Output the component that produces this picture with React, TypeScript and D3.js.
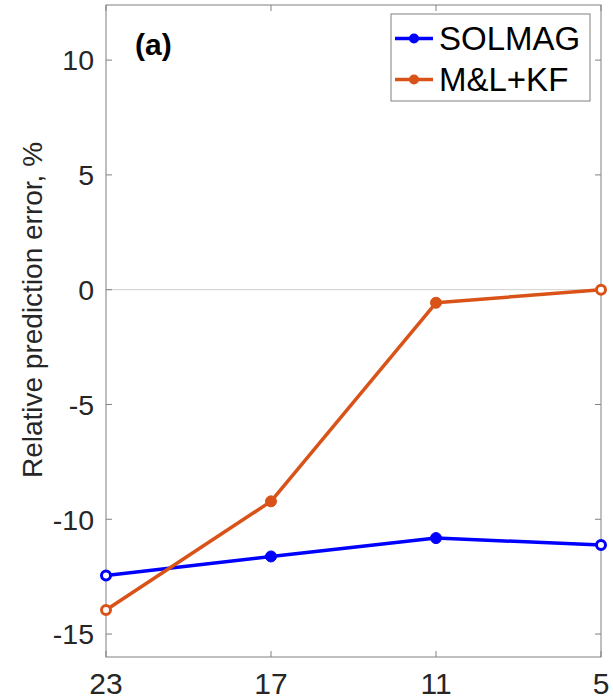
import React from "react";
import * as d3 from "d3";

const categories = ["23", "17", "11", "5"];
const solmag = [-12.45, -11.62, -10.82, -11.12];
const mlkf = [-13.95, -9.22, -0.57, 0.0];
const yTicks = [-15, -10, -5, 0, 5, 10];
const seriesNames = ["SOLMAG", "M&L+KF"];
const seriesColors = ["#0000FF", "#D95319"];

const W = 613, H = 700;
const m = { left: 106, right: 12, top: 5, bottom: 43 };

export default function App() {
  const x = d3.scalePoint<string>().domain(categories).range([m.left, W - m.right]);
  const y = d3.scaleLinear().domain([-16, 12.4]).range([H - m.bottom, m.top]);
  const line = d3.line<number>().x((_, i) => x(categories[i])!).y((d) => y(d));
  const all = [solmag, mlkf];
  const font = "'Liberation Sans', Arial, sans-serif";
  const axisColor = "#808080";
  const textColor = "#262626";
  const x0 = m.left, x1 = W - m.right, y0 = m.top, y1 = H - m.bottom;
  return (
    <svg width={W} height={H} style={{ position: "absolute", left: 0, top: 0 }} fontFamily={font}>
      <rect x={0} y={0} width={W} height={H} fill="#fff" />
      <line x1={x0} x2={x1} y1={y(0)} y2={y(0)} stroke="#d0d0d0" strokeWidth={1} />
      {yTicks.map((t) => (
        <g key={t}>
          <line x1={x0} x2={x0 + 6} y1={y(t)} y2={y(t)} stroke={axisColor} />
          <line x1={x1} x2={x1 - 6} y1={y(t)} y2={y(t)} stroke={axisColor} />
          <text x={x0 - 12} y={y(t)} dy="0.36em" textAnchor="end" fontSize={28.5} fill={textColor}>
            {t < 0 ? "-" + Math.abs(t) : t}
          </text>
        </g>
      ))}
      {categories.map((c) => (
        <g key={c}>
          <line x1={x(c)} x2={x(c)} y1={y1} y2={y1 - 6} stroke={axisColor} />
          <line x1={x(c)} x2={x(c)} y1={y0} y2={y0 + 6} stroke={axisColor} />
          <text x={x(c)} y={y1 + 37} textAnchor="middle" fontSize={30} fill={textColor}>{c}</text>
        </g>
      ))}
      <rect x={x0} y={y0} width={x1 - x0} height={y1 - y0} fill="none" stroke={axisColor} strokeWidth={1} />
      {all.map((s, k) => (
        <g key={k}>
          <path d={line(s)!} fill="none" stroke={seriesColors[k]} strokeWidth={3.5} strokeLinejoin="round" />
          {s.map((v, i) => {
            const end = i === 0 || i === s.length - 1;
            return (
              <circle key={i} cx={x(categories[i])} cy={y(v)} r={end ? 4.5 : 5.5}
                fill={end ? "#fff" : seriesColors[k]} stroke={seriesColors[k]} strokeWidth={end ? 3 : 1} />
            );
          })}
        </g>
      ))}
      <text x={135} y={55} fontSize={30} fontWeight="bold" fill="#000">(a)</text>
      <text transform={`translate(42, 310) rotate(-90)`} textAnchor="middle" fontSize={28} fill={textColor}>
        Relative prediction error, %
      </text>
      <g>
        <rect x={391} y={14} width={199} height={87} fill="#fff" stroke={axisColor} />
        {seriesNames.map((n, k) => {
          const ly = 38.5 + k * 41;
          return (
            <g key={n}>
              <line x1={395} x2={433} y1={ly} y2={ly} stroke={seriesColors[k]} strokeWidth={3.5} />
              <circle cx={414} cy={ly} r={5} fill={seriesColors[k]} />
              <text x={439} y={ly + 11} fontSize={33} fill="#000">{n}</text>
            </g>
          );
        })}
      </g>
    </svg>
  );
}
